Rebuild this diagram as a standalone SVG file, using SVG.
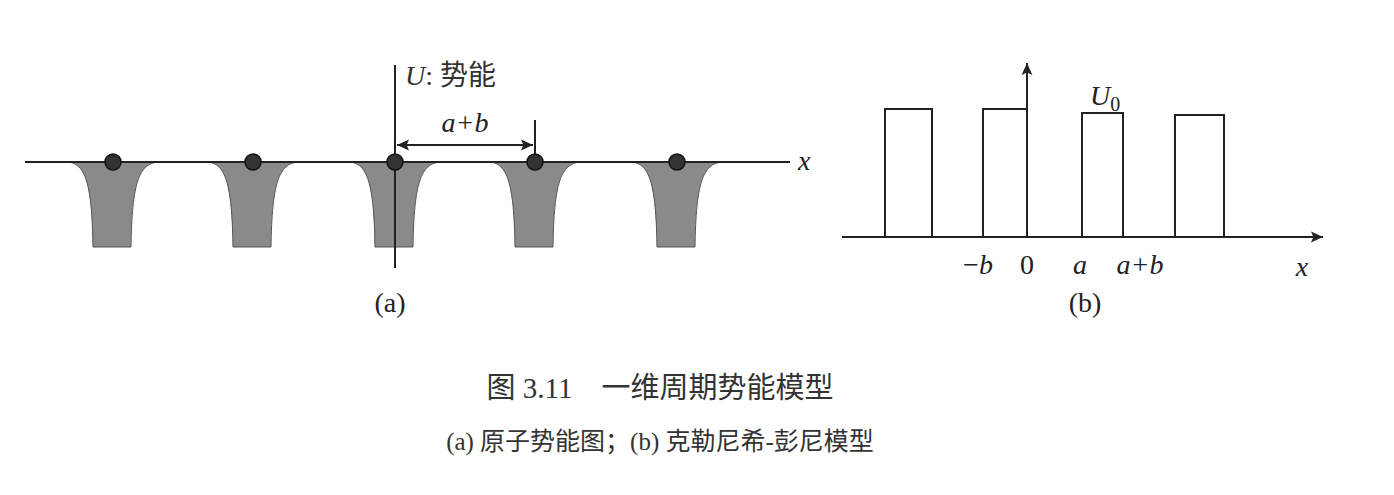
<svg xmlns="http://www.w3.org/2000/svg" width="1394" height="495" viewBox="0 0 1394 495">
<style>
.ln{stroke:#222;stroke-width:2;fill:none}
.well{fill:#8a8a8a;stroke:#555;stroke-width:1}
.dot{fill:#333;stroke:#111;stroke-width:1.5}
.it{font-family:"Liberation Serif",serif;font-style:italic;font-size:28px;fill:#222}
.rm{font-family:"Liberation Serif",serif;font-size:28px;fill:#222}
.cj{font-family:"Liberation Serif","Noto Sans CJK SC",serif;fill:#333}
</style>
<defs>
<marker id="ah2" viewBox="0 0 10 10" refX="10" refY="5" markerWidth="26" markerHeight="12" orient="auto-start-reverse" markerUnits="userSpaceOnUse"><path d="M0,0.5 L10,5 L0,9.5 L2,5 Z" fill="#222"/></marker>
<path id="w" d="M-45,0 C-28,2 -21,20 -20,85 L18,85 C19,20 26,2 45,0 Z"/>
</defs>
<g id="wells">
<use href="#w" x="113" y="162" class="well"/>
<use href="#w" x="253" y="162" class="well"/>
<use href="#w" x="395" y="162" class="well"/>
<use href="#w" x="535" y="162" class="well"/>
<use href="#w" x="677" y="162" class="well"/>
</g>
<g id="connectors">
<line class="ln" x1="25" y1="162" x2="790" y2="162"/>
<line class="ln" x1="395" y1="65" x2="395" y2="268"/>
<line class="ln" x1="535" y1="120" x2="535" y2="162"/>
<line class="ln" x1="397" y1="145" x2="533" y2="145" marker-start="url(#ah2)" marker-end="url(#ah2)"/>
<line class="ln" x1="842" y1="237" x2="1323" y2="237" marker-end="url(#ah2)"/>
<line class="ln" x1="1027" y1="237" x2="1027" y2="63" marker-end="url(#ah2)"/>
<polyline class="ln" points="885,237 885,109 932,109 932,237"/>
<polyline class="ln" points="983,237 983,109 1027,109"/>
<polyline class="ln" points="1082,237 1082,113 1123,113 1123,237"/>
<polyline class="ln" points="1175,237 1175,115 1224,115 1224,237"/>
</g>
<g id="dots">
<circle class="dot" cx="113" cy="162" r="8"/>
<circle class="dot" cx="253" cy="162" r="8"/>
<circle class="dot" cx="395" cy="162" r="8"/>
<circle class="dot" cx="535" cy="162" r="8"/>
<circle class="dot" cx="677" cy="162" r="8"/>
</g>
<g id="labels">
<text class="it" x="798" y="170">x</text>
<text x="405" y="85" class="cj" font-size="28"><tspan font-style="italic">U</tspan>: 势能</text>
<text class="it" x="465" y="132" text-anchor="middle">a+b</text>
<text class="rm" x="390" y="312" text-anchor="middle">(a)</text>
<text class="it" x="1090" y="105"><tspan>U</tspan><tspan font-style="normal" font-size="20" dy="6">0</tspan></text>
<text class="it" x="978" y="274" text-anchor="middle"><tspan font-style="normal">−</tspan>b</text>
<text class="rm" x="1027" y="274" text-anchor="middle">0</text>
<text class="it" x="1080" y="274" text-anchor="middle">a</text>
<text class="it" x="1140" y="274" text-anchor="middle">a+b</text>
<text class="it" x="1302" y="276" text-anchor="middle">x</text>
<text class="rm" x="1085" y="312" text-anchor="middle">(b)</text>
<text class="cj" x="660" y="398" font-size="29" text-anchor="middle" xml:space="preserve">图 3.11    一维周期势能模型</text>
<text class="cj" x="660" y="450" font-size="25" text-anchor="middle">(a) 原子势能图；(b) 克勒尼希-彭尼模型</text>
</g>
</svg>
